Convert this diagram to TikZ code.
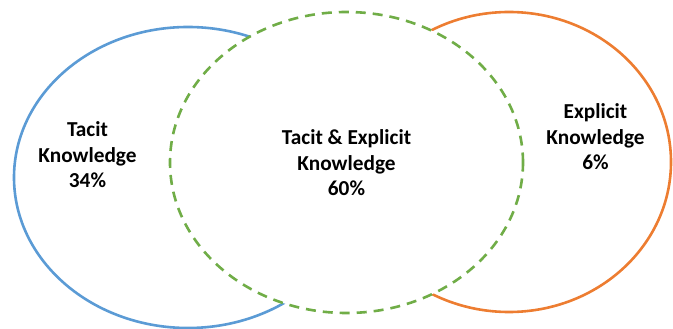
\documentclass[tikz,border=0pt]{standalone}
\usepackage{fontspec}
\setmainfont{Carlito}
\usetikzlibrary{shapes.geometric}
\definecolor{vblue}{HTML}{5B9BD5}
\definecolor{vorange}{HTML}{ED7D31}
\definecolor{vgreen}{HTML}{70AD47}
\tikzset{
  setring/.style={ellipse, inner sep=0pt, line width=2.6pt},
  setlabel/.style={align=center, anchor=base, inner sep=0pt,
    font=\fontsize{21.3}{25.6}\selectfont\bfseries}
}
\begin{document}
\begin{tikzpicture}[x=1pt,y=1pt]
\useasboundingbox (0,0) rectangle (673,329);
\node[setring, draw=vblue, minimum width=348pt, minimum height=301pt] (tacit) at (188,151.5) {};
\node[setring, draw=vorange, minimum width=324pt, minimum height=300pt] (explicit) at (509,167) {};
\node[setring, draw=vgreen, fill=white, dash pattern=on 10pt off 7pt, minimum width=353pt, minimum height=301pt] (both) at (346.5,166.5) {};
\node[setlabel] (ltacit) at (87.5,141) {Tacit\\Knowledge\\34\%};
\node[setlabel] (lboth) at (346.5,133) {Tacit \& Explicit\\Knowledge\\60\%};
\node[setlabel] (lexplicit) at (595.5,159) {Explicit\\Knowledge\\6\%};
\end{tikzpicture}
\end{document}
